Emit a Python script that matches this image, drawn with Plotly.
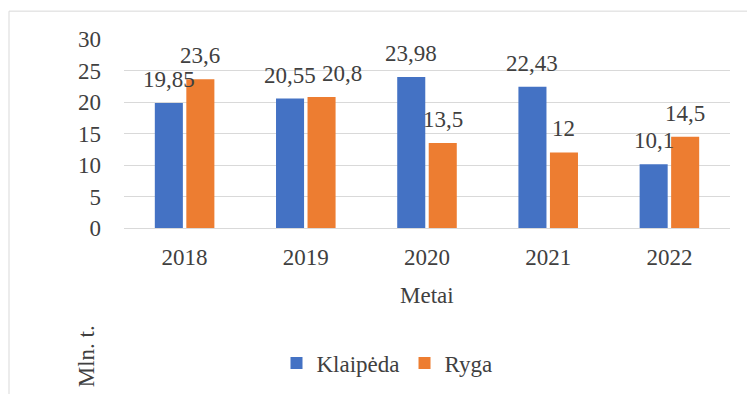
import plotly.graph_objects as go

years = ["2018", "2019", "2020", "2021", "2022"]
klaipeda = [19.85, 20.55, 23.98, 22.43, 10.1]
ryga = [23.6, 20.8, 13.5, 12, 14.5]
series_names = ["Klaipėda", "Ryga"]
colors = ["#4472C4", "#ED7D31"]

W, H = 747, 394
L, R, T, B = 124, 17, 39, 165
plot_w = W - L - R
plot_h = H - T - B
Y_MAX = 30

BARGAP = 0.48
GROUPGAP = 0.11
FONT = "Times New Roman, Liberation Serif, DejaVu Serif, Noto Serif, serif"
FS = 23
TXT = "#404040"


def fmt(v):
    s = ("%.2f" % v).rstrip("0").rstrip(".")
    return s.replace(".", ",")


def text_width(s):
    # rough advance widths in em for digits and the decimal comma
    return sum(0.278 if c == "," else 0.556 for c in s) * FS


fig = go.Figure()
for name, vals, col in zip(series_names, [klaipeda, ryga], colors):
    fig.add_trace(go.Bar(x=years, y=vals, name=name, marker_color=col,
                         marker_line_width=0))

# value labels above each bar; the right label is nudged aside when it
# would run into its neighbour at the same height
cat_w = plot_w / len(years)
slot = cat_w * (1 - BARGAP) / 2
px_per_unit = plot_h / Y_MAX
annotations = []
for j in range(len(years)):
    lt, rt = fmt(klaipeda[j]), fmt(ryga[j])
    ls, rs = -0.5 * slot, 0.5 * slot
    overlap = (ls + text_width(lt) / 2) - (rs - text_width(rt) / 2)
    same_row = abs(klaipeda[j] - ryga[j]) * px_per_unit < FS
    if overlap > 0 and same_row:
        rs += overlap + 1
    for txt, v, sh in ((lt, klaipeda[j], ls), (rt, ryga[j], rs)):
        annotations.append(dict(x=j, y=v, xref="x", yref="y", text=txt,
                                showarrow=False, xshift=sh, yshift=9,
                                yanchor="bottom", xanchor="center",
                                font=dict(family=FONT, size=FS, color=TXT)))

# axis titles
annotations.append(dict(x=0.5, y=(T + plot_h - 297) / plot_h, xref="paper", yref="paper",
                        text="Metai", showarrow=False, yanchor="middle",
                        font=dict(family=FONT, size=FS, color=TXT)))
annotations.append(dict(x=(86 - L) / plot_w, y=(T + plot_h - 358) / plot_h,
                        xref="paper", yref="paper", text="Mln. t.", textangle=-90,
                        showarrow=False, xanchor="center", yanchor="middle",
                        font=dict(family=FONT, size=FS, color=TXT)))

fig.update_layout(
    width=W, height=H,
    margin=dict(l=L, r=R, t=T, b=B, pad=0),
    paper_bgcolor="white", plot_bgcolor="white",
    barmode="group", bargap=BARGAP, bargroupgap=GROUPGAP,
    font=dict(family=FONT, size=FS, color=TXT),
    showlegend=True,
    legend=dict(orientation="h", x=(387 - L) / plot_w, xanchor="center",
                y=(T + plot_h - 363) / plot_h, yanchor="middle",
                font=dict(family=FONT, size=FS, color=TXT),
                itemwidth=30, tracegroupgap=0),
    annotations=annotations,
    shapes=[dict(type="rect", xref="paper", yref="paper",
                 x0=(9 - L) / plot_w, x1=1.2,
                 y0=-1.2, y1=(T + plot_h - 11) / plot_h,
                 line=dict(color="#D9D9D9", width=1), layer="below")],
)
fig.update_xaxes(type="category", range=[-0.5, len(years) - 0.5],
                 showgrid=False, showline=False, ticks="",
                 tickfont=dict(family=FONT, size=FS, color=TXT),
                 ticklabelstandoff=13)
fig.update_yaxes(range=[0, Y_MAX], dtick=5, showgrid=True, gridcolor="#D9D9D9",
                 gridwidth=1, zeroline=True, zerolinecolor="#D9D9D9",
                 zerolinewidth=1, showline=False, ticks="",
                 tickfont=dict(family=FONT, size=FS, color=TXT),
                 ticklabelstandoff=22)

fig.write_html("out.html")
